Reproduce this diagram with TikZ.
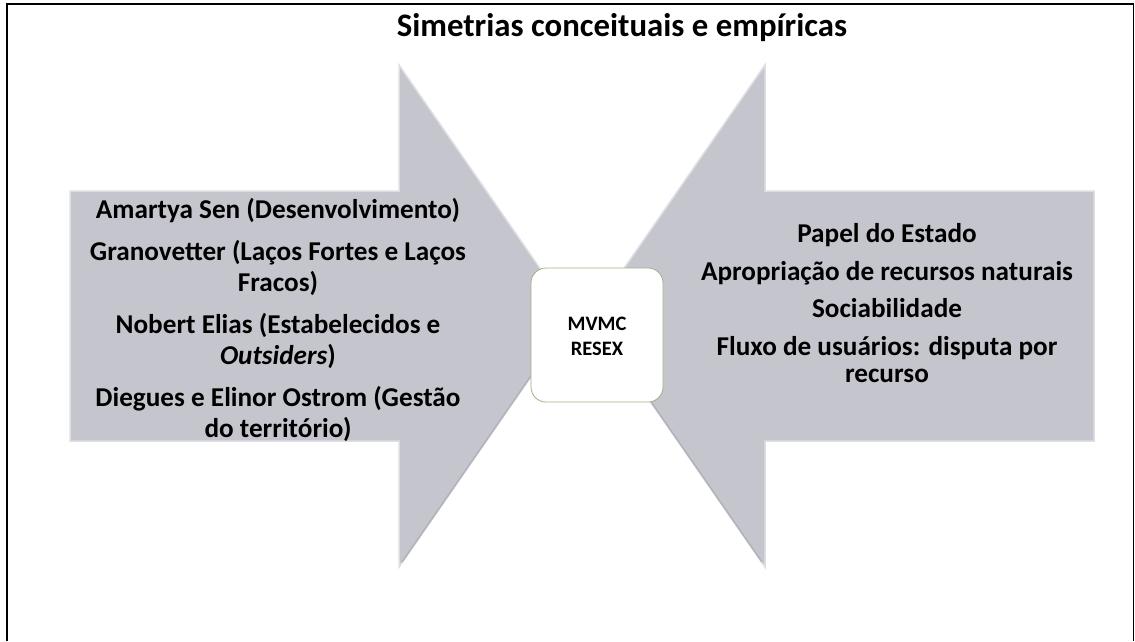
\documentclass[tikz,border=0pt]{standalone}
\usepackage{fontspec}
\setmainfont{Carlito}
\definecolor{arrowgray}{RGB}{197,197,206}
\definecolor{arrowedge}{RGB}{222,222,229}
\definecolor{arrowshade}{RGB}{178,178,188}
\definecolor{boxedge}{RGB}{160,178,130}
\begin{document}
\begin{tikzpicture}[x=1pt,y=-1pt,
  arrowshape/.style={fill=arrowgray, draw=arrowedge, line width=1.5pt, line join=miter},
  shadeline/.style={draw=arrowshade, line width=1.5pt},
  txtL/.style={anchor=base, inner sep=0pt, font=\bfseries\fontsize{27.2}{30}\selectfont},
  txtR/.style={anchor=base, inner sep=0pt, font=\bfseries\fontsize{27.2}{30}\selectfont},
  txtB/.style={anchor=base, inner sep=0pt, font=\bfseries\fontsize{20.5}{24}\selectfont},
  centerbox/.style={draw=boxedge, fill=white, line width=0.8pt, rounded corners=15pt}]
\useasboundingbox (0,0) rectangle (1135,641);
% frame
\draw[line width=1.7pt] (7,641) -- (7,4) -- (1133.5,4) -- (1133.5,641);
% title
\node[anchor=base, inner sep=0pt, font=\bfseries\fontsize{32.8}{36}\selectfont] (title) at (622,36) {Simetrias conceituais e empíricas};
% arrows
\draw[arrowshape] (70,191) -- (399,191) -- (399,65) -- (573,316) -- (399,567) -- (399,441) -- (70,441) -- cycle;
\draw[shadeline] (402,562) -- (571,318);
\draw[arrowshape] (1094,191) -- (765,191) -- (765,65) -- (591,316) -- (765,567) -- (765,441) -- (1094,441) -- cycle;
\draw[shadeline] (762,562) -- (593,318);
% centre box
\draw[centerbox] (531,268) rectangle (663,402);
\node[txtB] (b1) at (597,330) {MVMC};
\node[txtB] (b2) at (597,355) {RESEX};
% left texts
\node[txtL] (l1) at (278,218) {Amartya Sen (Desenvolvimento)};
\node[txtL] (l2) at (278,260) {Granovetter (Laços Fortes e Laços};
\node[txtL] (l3) at (278,291) {Fracos)};
\node[txtL] (l4) at (278,333) {Nobert Elias (Estabelecidos e};
\node[txtL] (l5) at (278,364) {\textit{Outsiders})};
\node[txtL] (l6) at (278,406) {Diegues e Elinor Ostrom (Gestão};
\node[txtL] (l7) at (278,437) {do território)};
% right texts
\node[txtR] (r1) at (887,242) {Papel do Estado};
\node[txtR] (r2) at (887,280) {Apropriação de recursos naturais};
\node[txtR] (r3) at (887,317) {Sociabilidade};
\node[txtR] (r4) at (887,355) {Fluxo de usuários: disputa por};
\node[txtR] (r5) at (887,382) {recurso};
\end{tikzpicture}
\end{document}
